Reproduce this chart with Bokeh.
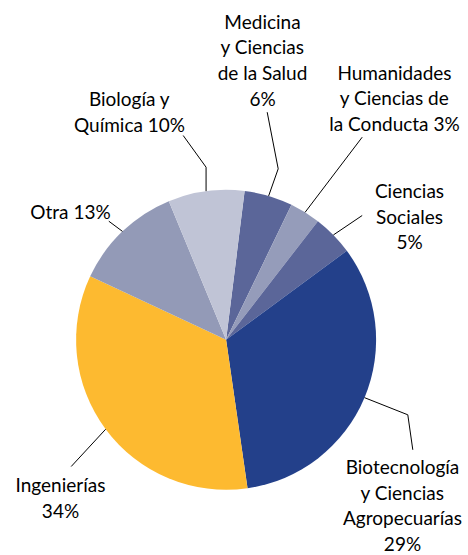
import math
from bokeh.plotting import figure
from bokeh.models import Range1d, ColumnDataSource
from bokeh.core.properties import value
from bokeh.embed import file_html
from bokeh.resources import INLINE

# Data (clockwise order, starting just right of 12 o'clock)
categories = ["Medicina y Ciencias de la Salud", "Humanidades y Ciencias de la Conducta",
              "Ciencias Sociales", "Biotecnología y Ciencias Agropecuarías",
              "Ingenierías", "Otra", "Biología y Química"]
shares = [5.2, 3.3, 4.4, 32.8, 34.2, 11.8, 8.2]
label_lines = [
    ["Medicina", "y Ciencias", "de la Salud", "6%"],
    ["Humanidades", "y Ciencias de", "la Conducta 3%"],
    ["Ciencias", "Sociales", "5%"],
    ["Biotecnología", "y Ciencias", "Agropecuarías", "29%"],
    ["Ingenierías", "34%"],
    ["Otra 13%"],
    ["Biología y", "Química 10%"],
]
colors = ["#5B6699", "#959CBA", "#5B6699", "#23408A", "#FDBA30", "#939AB7", "#C0C4D6"]

# Layout (screen pixel coordinates, y downward)
W, H = 468, 555
CX, CY, R = 225.6, 339.3, 150.0
START = 7.1  # degrees clockwise from 12 o'clock
label_pos = [(262, 20.7), (394, 71.7), (409, 190), (402, 466), (60, 484.3), (70, 210.7), (129, 98.3)]
leader_pts = [  # outer points from label toward the pie
    [(266.7, 111.7), (277.7, 168.3)],
    [(361.7, 136.7)],
    [(361.7, 215.0)],
    [(412.3, 449.3), (407.3, 414.3)],
    [(70.7, 466.0)],
    [(108.3, 220.7)],
    [(182.7, 135.0), None],
]
LINE_H = 25.6
FONT = "Lato"
FSIZE = "19px"


def fy(sy):
    return H - sy


p = figure(width=W, height=H, output_backend="svg", toolbar_location=None,
           x_range=Range1d(0, W), y_range=Range1d(0, H),
           min_border=0)
p.axis.visible = False
p.grid.visible = False
p.outline_line_color = None
p.background_fill_color = "white"

total = sum(shares)
cum = START
starts, ends, mids = [], [], []
for s in shares:
    a0 = cum
    a1 = cum + s / total * 360.0
    starts.append(math.radians(90 - a0))
    ends.append(math.radians(90 - a1))
    mids.append((a0 + a1) / 2)
    cum = a1

src = ColumnDataSource(dict(x=[CX] * len(shares), y=[fy(CY)] * len(shares),
                            start=starts, end=ends, color=colors, cat=categories))
p.wedge(x="x", y="y", radius=R, start_angle="start", end_angle="end", direction="clock",
        fill_color="color", line_color=None, source=src)

# leader lines
for i, pts in enumerate(leader_pts):
    m = math.radians(mids[i])
    ex = CX + R * math.sin(m)
    ey = CY - R * math.cos(m)
    xs, ys = [], []
    for pt in pts:
        if pt is None:
            pt = (ex, 166.7)
        xs.append(pt[0])
        ys.append(fy(pt[1]))
    xs.append(ex)
    ys.append(fy(ey))
    p.line(xs, ys, line_color="black", line_width=1)

# labels
tx, ty, tt = [], [], []
for (lx, ly), lines in zip(label_pos, label_lines):
    for j, t in enumerate(lines):
        tx.append(lx)
        ty.append(fy(ly + j * LINE_H))
        tt.append(t)
p.text(x=tx, y=ty, text=tt, text_align="center", text_baseline="middle",
       text_font=value(FONT), text_font_size=FSIZE, text_color="#000000")

open("out.html", "w").write(file_html(p, INLINE))
